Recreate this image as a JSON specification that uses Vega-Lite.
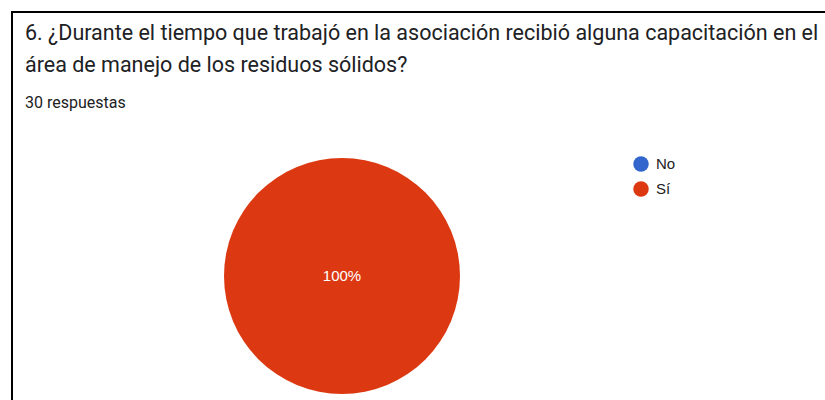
{
  "$schema": "https://vega.github.io/schema/vega-lite/v6.json",
  "autosize": {"type": "none"},
  "width": 830,
  "height": 400,
  "padding": {"left": 12, "top": 12, "right": 0, "bottom": 0},
  "background": "white",
  "view": {"stroke": "black", "strokeWidth": 2, "fill": "white"},
  "config": {
    "view": {"stroke": "black", "strokeWidth": 2},
    "font": "Roboto"
  },
  "title": {
    "text": ["6. ¿Durante el tiempo que trabajó en la asociación recibió alguna capacitación en el", "área de manejo de los residuos sólidos?"],
    "subtitle": "30 respuestas",
    "anchor": "start",
    "frame": "group",
    "orient": "top",
    "offset": -99,
    "dx": 13,
    "font": "Roboto",
    "fontSize": 21.5,
    "fontWeight": "normal",
    "color": "#202124",
    "lineHeight": 32,
    "subtitleFont": "Roboto",
    "subtitleFontSize": 16,
    "subtitleColor": "#202124",
    "subtitlePadding": 19
  },
  "data": {
    "values": [
      {"respuesta": "No", "cantidad": 0, "porcentaje": "0%"},
      {"respuesta": "Sí", "cantidad": 30, "porcentaje": "100%"}
    ]
  },
  "layer": [
    {
      "mark": {"type": "arc", "radius": 118, "xOffset": -85, "yOffset": 64},
      "encoding": {
        "theta": {"field": "cantidad", "type": "quantitative", "stack": true},
        "color": {
          "field": "respuesta",
          "type": "nominal",
          "scale": {"domain": ["No", "Sí"], "range": ["#3366cc", "#dc3912"]},
          "legend": {
            "title": null,
            "orient": "none",
            "legendX": 621,
            "legendY": 144,
            "padding": 0,
            "symbolType": "circle",
            "symbolSize": 240,
            "symbolStrokeWidth": 0,
            "rowPadding": 9,
            "labelFont": "Liberation Sans",
            "labelFontSize": 15,
            "labelColor": "#222222",
            "labelOffset": 7
          }
        }
      }
    },
    {
      "transform": [{"filter": "datum.cantidad > 0"}],
      "mark": {"type": "text", "radius": 0, "xOffset": -85, "yOffset": 64, "font": "Liberation Sans", "fontSize": 15, "color": "white"},
      "encoding": {
        "text": {"field": "porcentaje", "type": "nominal"}
      }
    }
  ]
}
